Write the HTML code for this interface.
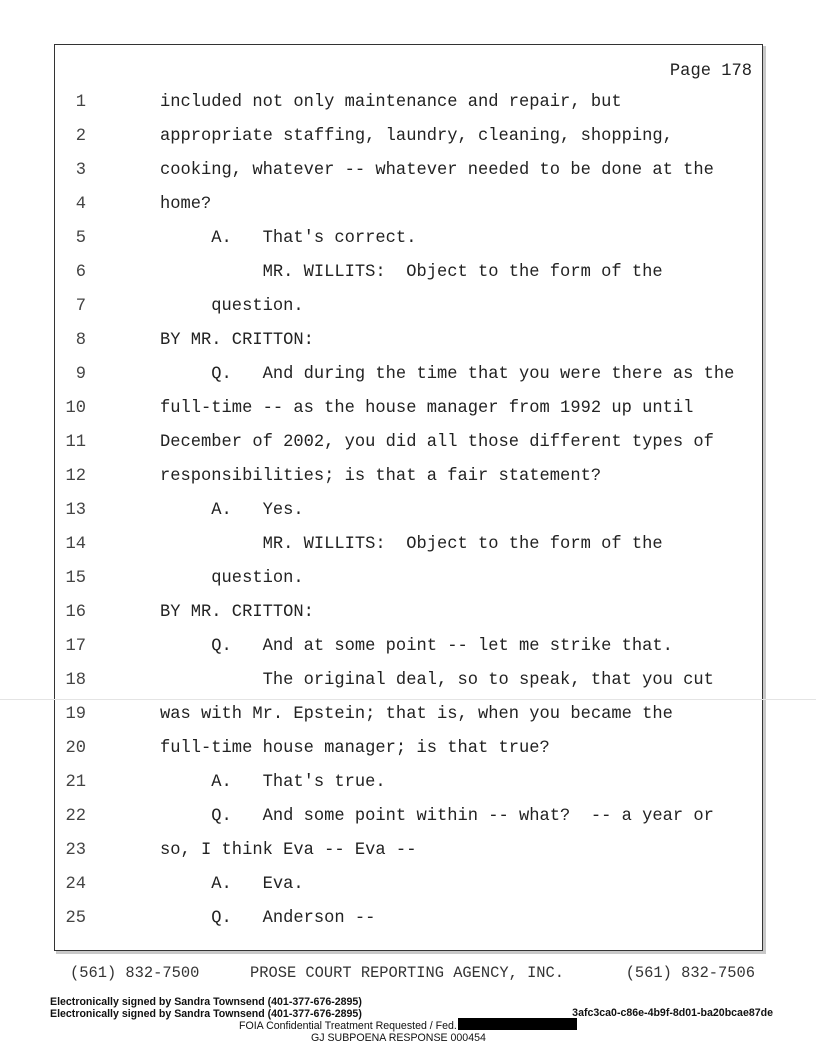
<!DOCTYPE html>
<html><head><meta charset="utf-8"><style>
html,body{margin:0;padding:0;background:#fff;}
body{width:816px;height:1056px;position:relative;overflow:hidden;font-family:"Liberation Mono",monospace;color:#222;}
.box{position:absolute;left:54px;top:44px;width:707px;height:905px;border:1.2px solid #333;}
.sh1{position:absolute;left:763px;top:46px;width:3px;height:907px;background:#c8c8c8;}
.sh2{position:absolute;left:56px;top:951px;width:710px;height:3px;background:#c8c8c8;}
.n{position:absolute;width:30px;text-align:right;left:56px;font-size:17.1px;line-height:20px;color:#444;}
.t{position:absolute;left:160px;font-size:17.1px;line-height:20px;white-space:pre;color:#222;}
.f{position:absolute;font-size:15.4px;line-height:18px;white-space:pre;color:#333;}
.s{position:absolute;font-family:"Liberation Sans",Arial,sans-serif;font-size:10.6px;line-height:12px;white-space:pre;color:#111;}
</style></head><body>
<div class="box"></div><div class="sh1"></div><div class="sh2"></div>
<div style="position:absolute;left:0;top:699px;width:816px;height:1px;background:#e4e4e4"></div>
<div class="t" style="left:auto;right:64px;top:62px">Page 178</div>

<div class="n" style="top:93px">1</div><div class="t" style="top:93px">included not only maintenance and repair, but</div>
<div class="n" style="top:127px">2</div><div class="t" style="top:127px">appropriate staffing, laundry, cleaning, shopping,</div>
<div class="n" style="top:161px">3</div><div class="t" style="top:161px">cooking, whatever -- whatever needed to be done at the</div>
<div class="n" style="top:195px">4</div><div class="t" style="top:195px">home?</div>
<div class="n" style="top:229px">5</div><div class="t" style="top:229px">     A.   That's correct.</div>
<div class="n" style="top:263px">6</div><div class="t" style="top:263px">          MR. WILLITS:  Object to the form of the</div>
<div class="n" style="top:297px">7</div><div class="t" style="top:297px">     question.</div>
<div class="n" style="top:331px">8</div><div class="t" style="top:331px">BY MR. CRITTON:</div>
<div class="n" style="top:365px">9</div><div class="t" style="top:365px">     Q.   And during the time that you were there as the</div>
<div class="n" style="top:399px">10</div><div class="t" style="top:399px">full-time -- as the house manager from 1992 up until</div>
<div class="n" style="top:433px">11</div><div class="t" style="top:433px">December of 2002, you did all those different types of</div>
<div class="n" style="top:467px">12</div><div class="t" style="top:467px">responsibilities; is that a fair statement?</div>
<div class="n" style="top:501px">13</div><div class="t" style="top:501px">     A.   Yes.</div>
<div class="n" style="top:535px">14</div><div class="t" style="top:535px">          MR. WILLITS:  Object to the form of the</div>
<div class="n" style="top:569px">15</div><div class="t" style="top:569px">     question.</div>
<div class="n" style="top:603px">16</div><div class="t" style="top:603px">BY MR. CRITTON:</div>
<div class="n" style="top:637px">17</div><div class="t" style="top:637px">     Q.   And at some point -- let me strike that.</div>
<div class="n" style="top:671px">18</div><div class="t" style="top:671px">          The original deal, so to speak, that you cut</div>
<div class="n" style="top:705px">19</div><div class="t" style="top:705px">was with Mr. Epstein; that is, when you became the</div>
<div class="n" style="top:739px">20</div><div class="t" style="top:739px">full-time house manager; is that true?</div>
<div class="n" style="top:773px">21</div><div class="t" style="top:773px">     A.   That's true.</div>
<div class="n" style="top:807px">22</div><div class="t" style="top:807px">     Q.   And some point within -- what?  -- a year or</div>
<div class="n" style="top:841px">23</div><div class="t" style="top:841px">so, I think Eva -- Eva --</div>
<div class="n" style="top:875px">24</div><div class="t" style="top:875px">     A.   Eva.</div>
<div class="n" style="top:909px">25</div><div class="t" style="top:909px">     Q.   Anderson --</div>

<div class="f" style="left:70px;top:964px">(561) 832-7500</div>
<div class="f" style="left:250px;top:964px">PROSE COURT REPORTING AGENCY, INC.</div>
<div class="f" style="right:61px;top:964px">(561) 832-7506</div>

<div class="s" style="left:50px;top:996px;font-weight:bold">Electronically signed by Sandra Townsend (401-377-676-2895)</div>
<div class="s" style="left:50px;top:1008px;font-weight:bold">Electronically signed by Sandra Townsend (401-377-676-2895)</div>
<div class="s" style="right:43px;top:1007px;font-weight:bold">3afc3ca0-c86e-4b9f-8d01-ba20bcae87de</div>
<div class="s" style="left:239px;top:1020px">FOIA Confidential Treatment Requested / Fed.</div>
<div style="position:absolute;left:458px;top:1018px;width:119px;height:12px;background:#000"></div>
<div class="s" style="left:311px;top:1032px">GJ SUBPOENA RESPONSE 000454</div>
</body></html>
